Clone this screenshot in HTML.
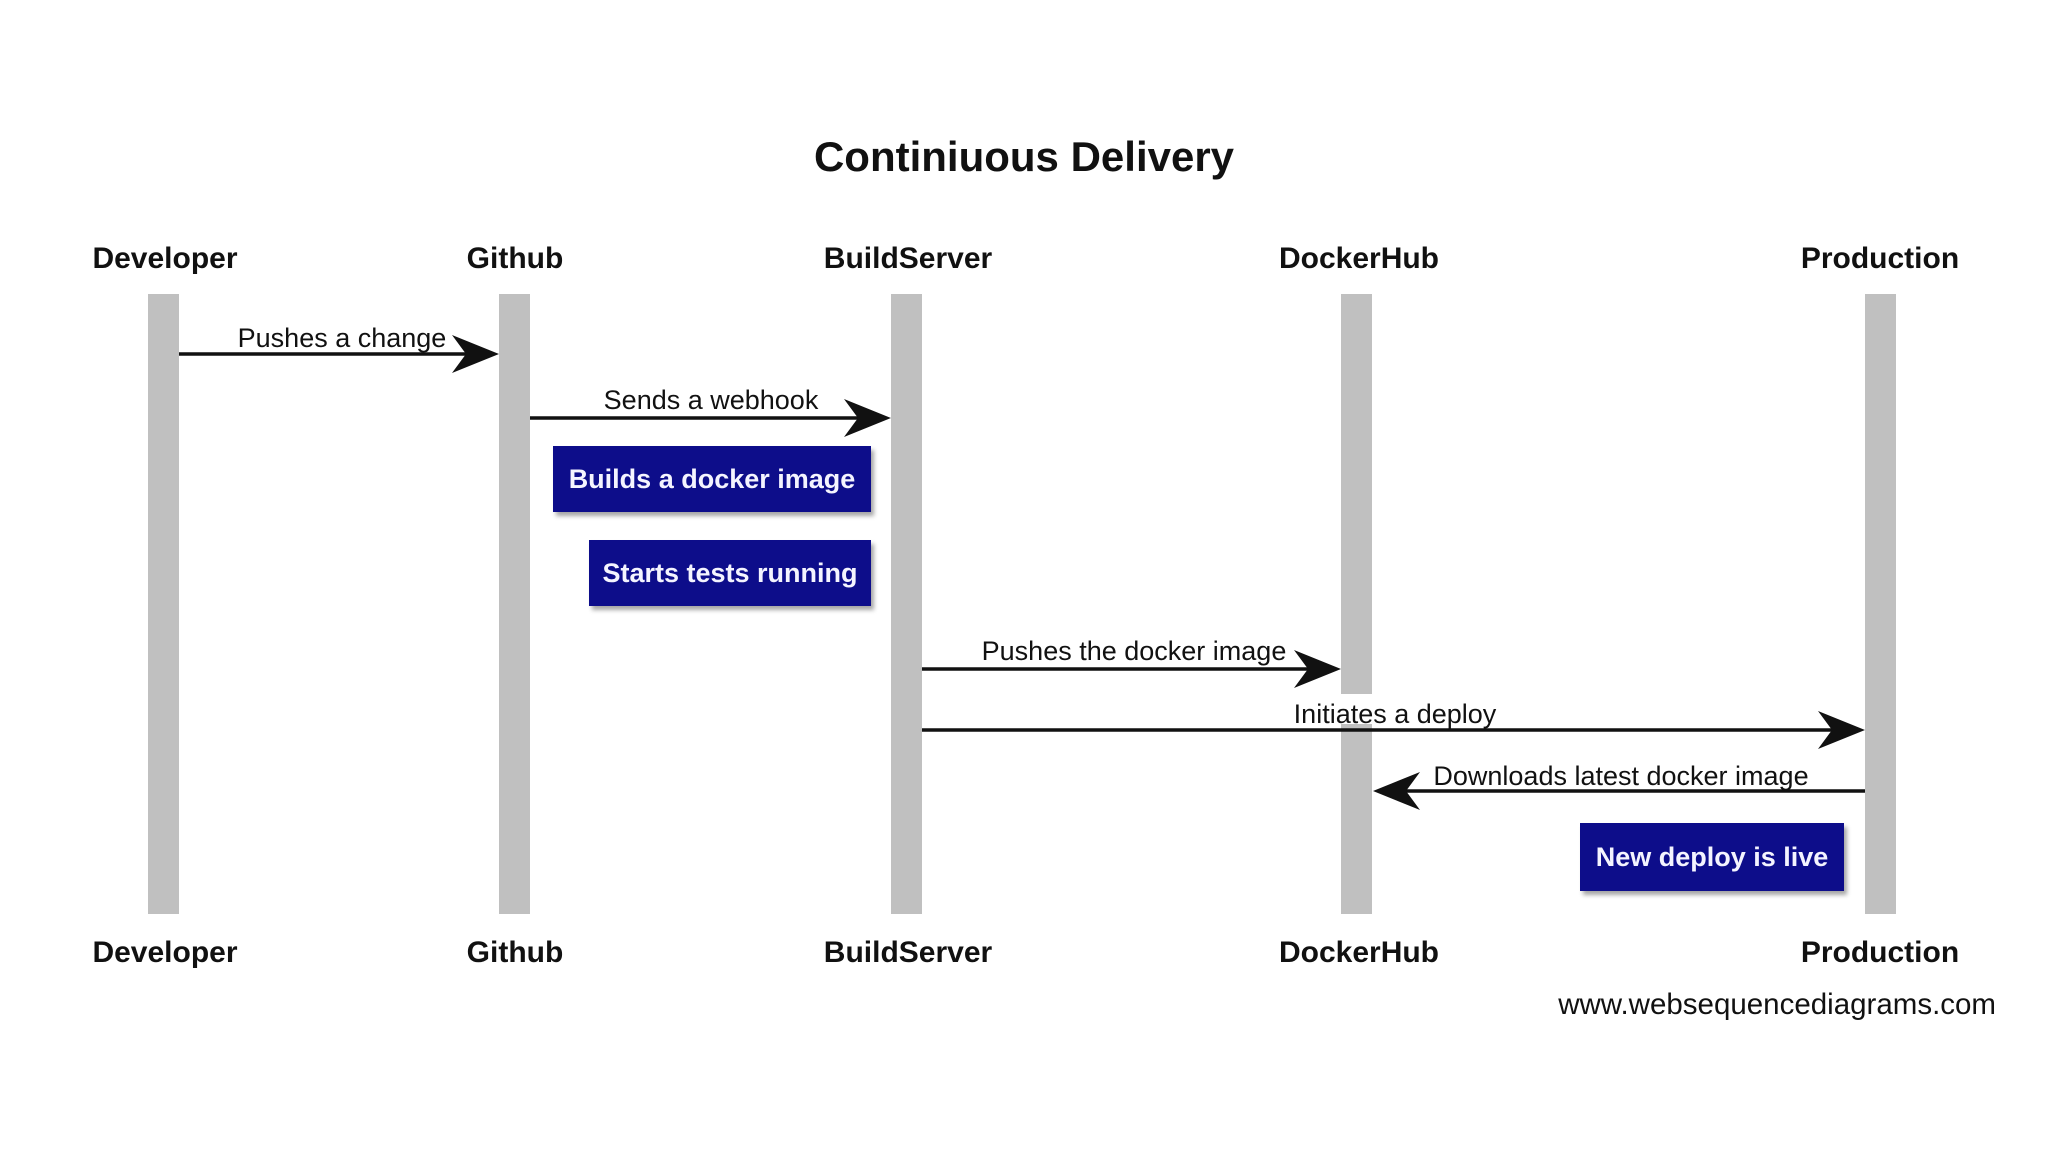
<!DOCTYPE html>
<html><head><meta charset="utf-8"><style>
html,body{margin:0;padding:0;background:#fff;}
svg{display:block;}
text{font-family:"Liberation Sans",Arial,sans-serif;}
</style></head><body>
<svg width="2048" height="1152" viewBox="0 0 2048 1152" xmlns="http://www.w3.org/2000/svg">
<defs>
<filter id="sh" x="-5%" y="-5%" width="115%" height="125%"><feDropShadow dx="3" dy="4" stdDeviation="2" flood-color="#000" flood-opacity="0.35"/></filter>
</defs>
<rect width="2048" height="1152" fill="#fff"/>
<text x="1024" y="171" font-size="42" font-weight="bold" text-anchor="middle" fill="#111">Continiuous Delivery</text>
<g font-size="30" font-weight="bold" text-anchor="middle" fill="#111">
<text x="165" y="268">Developer</text><text x="515" y="268">Github</text><text x="908" y="268">BuildServer</text><text x="1359" y="268">DockerHub</text><text x="1880" y="268">Production</text>
<text x="165" y="962">Developer</text><text x="515" y="962">Github</text><text x="908" y="962">BuildServer</text><text x="1359" y="962">DockerHub</text><text x="1880" y="962">Production</text>
</g>
<g fill="#c0c0c0">
<rect x="148" y="294" width="31" height="620"/><rect x="499" y="294" width="31" height="620"/><rect x="891" y="294" width="31" height="620"/><rect x="1341" y="294" width="31" height="620"/><rect x="1865" y="294" width="31" height="620"/>
</g>
<g stroke="#111" stroke-width="3.5" fill="none">
<line x1="179" y1="354" x2="480" y2="354"/>
<line x1="530" y1="418" x2="872" y2="418"/>
<line x1="922" y1="669" x2="1322" y2="669"/>
<line x1="922" y1="730" x2="1846" y2="730"/>
<line x1="1865" y1="791" x2="1392" y2="791"/>
</g>
<g fill="#111">
<path d="M499,354 L452,335 L466,354 L452,373 Z"/>
<path d="M891,418 L844,399 L858,418 L844,437 Z"/>
<path d="M1341,669 L1294,650 L1308,669 L1294,688 Z"/>
<path d="M1865,730 L1818,711 L1832,730 L1818,749 Z"/>
<path d="M1373,791 L1420,772 L1406,791 L1420,810 Z"/>
</g>
<rect x="1290" y="694" width="210" height="30" fill="#fff"/>
<rect x="1428" y="758" width="390" height="28" fill="#fff"/>
<g font-size="27" fill="#111" text-anchor="middle">
<text x="342" y="347">Pushes a change</text>
<text x="711" y="409">Sends a webhook</text>
<text x="1134" y="660">Pushes the docker image</text>
<text x="1395" y="723">Initiates a deploy</text>
<text x="1621" y="785">Downloads latest docker image</text>
</g>
<g fill="#08088a" filter="url(#sh)">
<rect x="553" y="446" width="318" height="66"/>
<rect x="589" y="540" width="282" height="66"/>
<rect x="1580" y="823" width="264" height="68"/>
</g>
<g font-size="27" font-weight="bold" fill="#f4f4ff" text-anchor="middle">
<text x="712" y="488">Builds a docker image</text>
<text x="730" y="582">Starts tests running</text>
<text x="1712" y="866">New deploy is live</text>
</g>
<text x="1996" y="1014" font-size="29.5" fill="#111" text-anchor="end">www.websequencediagrams.com</text>
</svg>
</body></html>
